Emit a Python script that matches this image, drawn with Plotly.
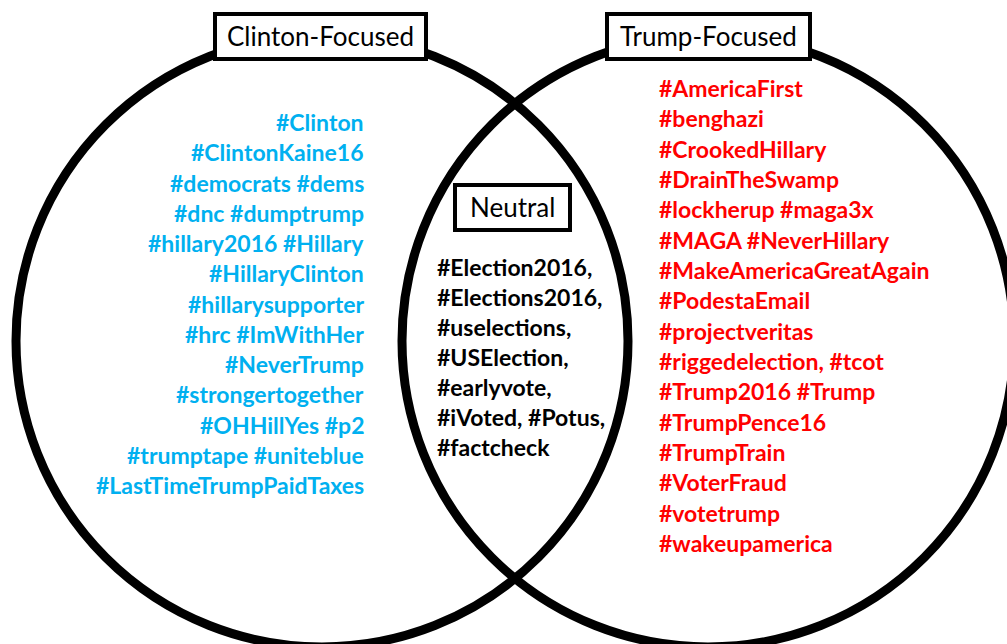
import plotly.graph_objects as go

# ---------------- data ----------------
clinton_tags = [
    "#Clinton", "#ClintonKaine16", "#democrats #dems", "#dnc #dumptrump",
    "#hillary2016 #Hillary", "#HillaryClinton", "#hillarysupporter",
    "#hrc #ImWithHer", "#NeverTrump", "#strongertogether", "#OHHillYes #p2",
    "#trumptape #uniteblue", "#LastTimeTrumpPaidTaxes",
]
trump_tags = [
    "#AmericaFirst", "#benghazi", "#CrookedHillary", "#DrainTheSwamp",
    "#lockherup #maga3x", "#MAGA #NeverHillary", "#MakeAmericaGreatAgain",
    "#PodestaEmail", "#projectveritas", "#riggedelection, #tcot",
    "#Trump2016 #Trump", "#TrumpPence16", "#TrumpTrain", "#VoterFraud",
    "#votetrump", "#wakeupamerica",
]
neutral_tags = [
    "#Election2016,", "#Elections2016,", "#uselections,", "#USElection,",
    "#earlyvote,", "#iVoted, #Potus,", "#factcheck",
]
group_titles = ["Clinton-Focused", "Trump-Focused", "Neutral"]

# ---------------- styling / layout ----------------
W, H = 1007, 644
FONT = "Lato"
BLUE = "#00B0F0"
RED = "#FF0000"
TAG_SIZE = 23
TITLE_SIZE = 26
LINE = 30.25

fig = go.Figure()
fig.add_trace(go.Scatter(x=[0, W], y=[0, H], mode="markers",
                         marker=dict(opacity=0), hoverinfo="skip", showlegend=False))

shapes = []
# circles
for cx in (322, 708):
    shapes.append(dict(type="circle", xref="x", yref="y",
                       x0=cx - 306, x1=cx + 306, y0=341 - 306, y1=341 + 306,
                       line=dict(color="black", width=9), fillcolor="rgba(0,0,0,0)"))
# title boxes
boxes = [(213, 428, 12, 61), (605, 812, 12, 61), (453, 572, 183, 232)]
for (x0, x1, y0, y1) in boxes:
    shapes.append(dict(type="rect", xref="x", yref="y", x0=x0 + 2, x1=x1 - 2,
                       y0=y0 + 2, y1=y1 - 2,
                       line=dict(color="black", width=4), fillcolor="white"))

annotations = []
for title, (x0, x1, y0, y1) in zip(group_titles, boxes):
    annotations.append(dict(x=(x0 + x1) / 2, y=(y0 + y1) / 2 - 1, xref="x", yref="y",
                            text=title, showarrow=False,
                            font=dict(family=FONT, size=TITLE_SIZE, color="black"),
                            xanchor="center", yanchor="middle"))

for i, t in enumerate(clinton_tags):
    annotations.append(dict(x=366, y=122 + i * LINE, xref="x", yref="y", text="<b>%s</b>" % t,
                            showarrow=False, xanchor="right", yanchor="middle",
                            font=dict(family=FONT, size=TAG_SIZE, color=BLUE)))
for i, t in enumerate(trump_tags):
    annotations.append(dict(x=657, y=88 + i * 30.33, xref="x", yref="y", text="<b>%s</b>" % t,
                            showarrow=False, xanchor="left", yanchor="middle",
                            font=dict(family=FONT, size=TAG_SIZE, color=RED)))
for i, t in enumerate(neutral_tags):
    annotations.append(dict(x=435, y=267 + i * 30, xref="x", yref="y", text="<b>%s</b>" % t,
                            showarrow=False, xanchor="left", yanchor="middle",
                            font=dict(family=FONT, size=TAG_SIZE, color="black")))

fig.update_layout(
    width=W, height=H, margin=dict(l=0, r=0, t=0, b=0),
    paper_bgcolor="white", plot_bgcolor="white",
    xaxis=dict(range=[0, W], visible=False, fixedrange=True),
    yaxis=dict(range=[H, 0], visible=False, fixedrange=True),
    shapes=shapes, annotations=annotations, showlegend=False,
)

fig.write_html("out.html", config={"displayModeBar": False},
               post_script="document.body.style.margin='0';")
